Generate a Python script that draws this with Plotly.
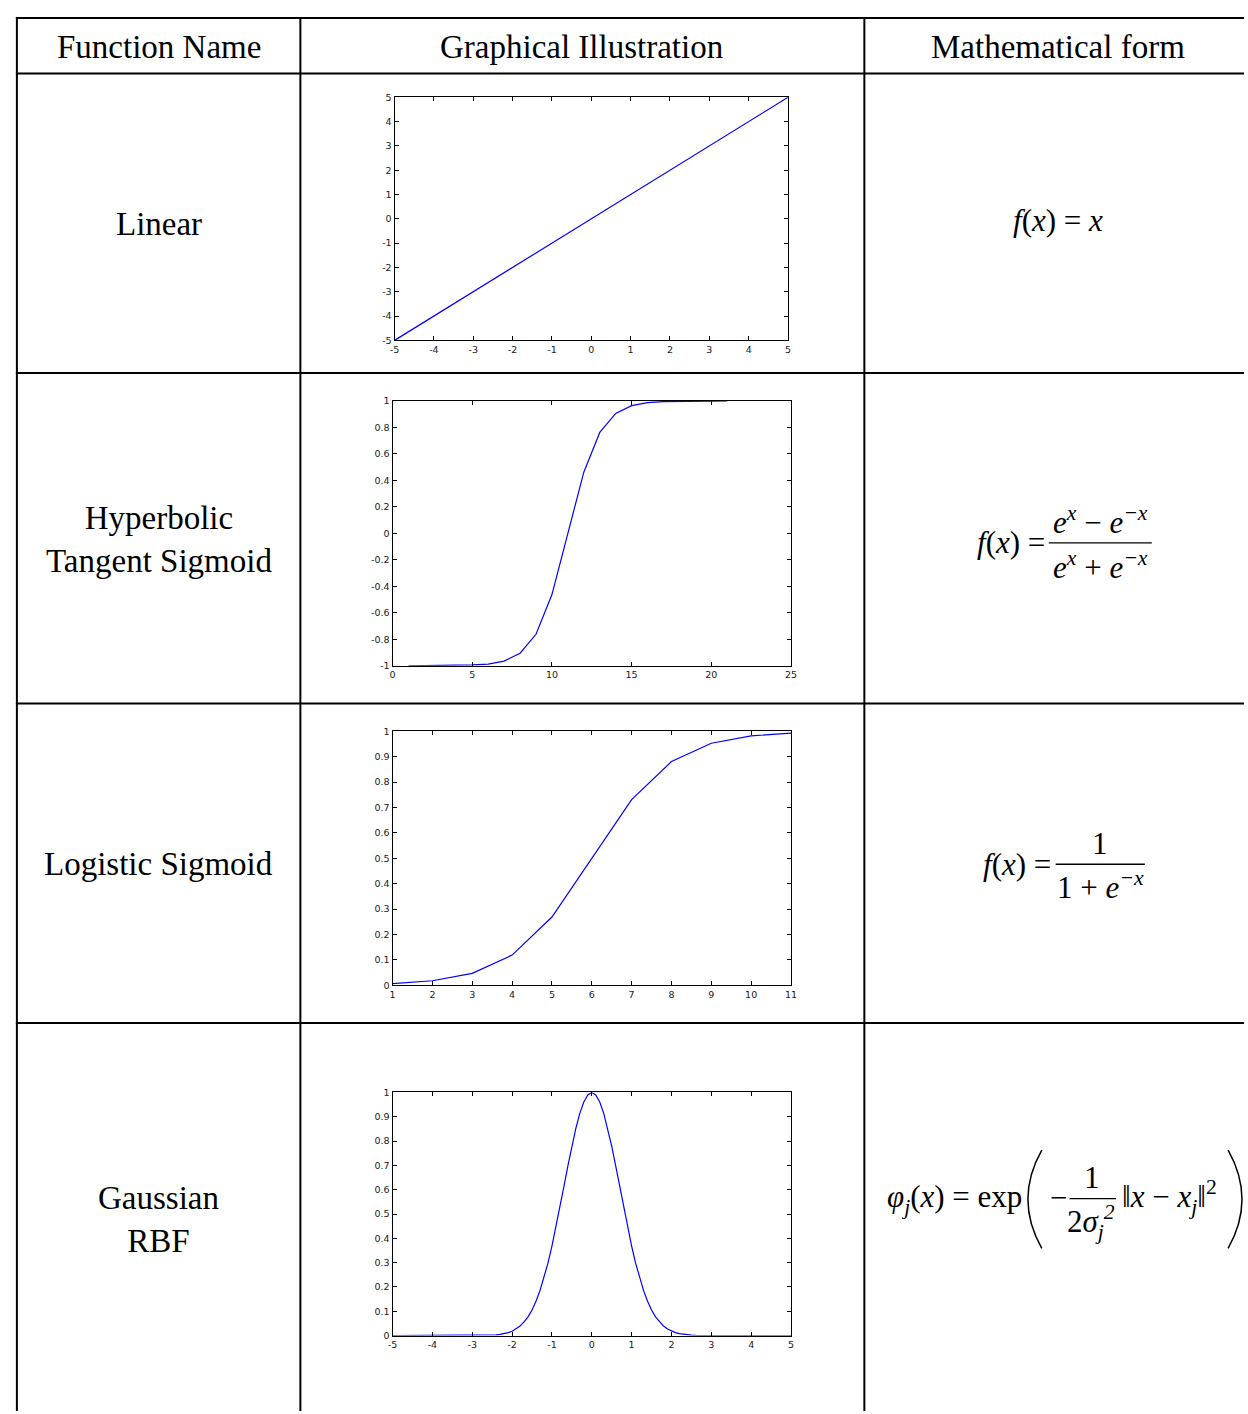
import plotly.graph_objects as go

W, H = 1248, 1414

# ---------------- data ----------------
lin_x = [-5, -4, -3, -2, -1, 0, 1, 2, 3, 4, 5]
lin_y = [-5, -4, -3, -2, -1, 0, 1, 2, 3, 4, 5]

tanh_x = list(range(1, 22))
tanh_y = [-1.0, -0.999, -0.999, -0.998, -0.993, -0.987, -0.964, -0.905, -0.762, -0.462, 0.0,
          0.462, 0.762, 0.905, 0.964, 0.987, 0.995, 0.998, 0.999, 0.999, 1.0]

logi_x = [1, 2, 3, 4, 5, 6, 7, 8, 9, 10, 11]
logi_y = [0.007, 0.018, 0.047, 0.119, 0.269, 0.5, 0.731, 0.881, 0.953, 0.982, 0.993]

gauss_x = [-5.0, -4.5, -4.0, -3.5, -3.0, -2.8, -2.7, -2.6, -2.5, -2.4, -2.3, -2.2, -2.1,
           -2.0, -1.9, -1.8, -1.7, -1.6, -1.5, -1.4, -1.3, -1.2, -1.1, -1.0, -0.9, -0.8, -0.7,
           -0.6, -0.5, -0.4, -0.3, -0.2, -0.1, 0.0, 0.1, 0.2, 0.3, 0.4, 0.5, 0.6, 0.7, 0.8, 0.9,
           1.0, 1.1, 1.2, 1.3, 1.4, 1.5, 1.6, 1.7, 1.8, 1.9, 2.0, 2.1, 2.2, 2.3, 2.4, 2.5, 2.6,
           2.7, 2.8, 3.0, 3.5, 4.0, 4.5, 5.0]
gauss_y = [0.0, 0.0, 0.0, 0.0, 0.0, 0.0, 0.001, 0.001, 0.002, 0.003, 0.005, 0.008, 0.012,
           0.018, 0.027, 0.039, 0.056, 0.077, 0.105, 0.141, 0.185, 0.237, 0.298, 0.368, 0.445,
           0.527, 0.613, 0.698, 0.779, 0.852, 0.914, 0.961, 0.990, 1.0, 0.990, 0.961, 0.914,
           0.852, 0.779, 0.698, 0.613, 0.527, 0.445, 0.368, 0.298, 0.237, 0.185, 0.141, 0.105,
           0.077, 0.056, 0.039, 0.027, 0.018, 0.012, 0.008, 0.005, 0.003, 0.002, 0.001, 0.001,
           0.0, 0.0, 0.0, 0.0, 0.0, 0.0]

header_labels = ["Function Name", "Graphical Illustration", "Mathematical form"]
row_names = ["Linear", "Hyperbolic<br>Tangent Sigmoid", "Logistic Sigmoid", "Gaussian<br>RBF"]

lin_ticks = [-5, -4, -3, -2, -1, 0, 1, 2, 3, 4, 5]
tanh_xticks = [0, 5, 10, 15, 20, 25]
tanh_yticks = [-1, -0.8, -0.6, -0.4, -0.2, 0, 0.2, 0.4, 0.6, 0.8, 1]
tanh_ylabels = ["-1", "-0.8", "-0.6", "-0.4", "-0.2", "0", "0.2", "0.4", "0.6", "0.8", "1"]
logi_xticks = [1, 2, 3, 4, 5, 6, 7, 8, 9, 10, 11]
unit_yticks = [0, 0.1, 0.2, 0.3, 0.4, 0.5, 0.6, 0.7, 0.8, 0.9, 1]
unit_ylabels = ["0", "0.1", "0.2", "0.3", "0.4", "0.5", "0.6", "0.7", "0.8", "0.9", "1"]

# ---------------- helpers ----------------
def px(x):
    return x / W


def py(y):
    return 1 - y / H


fig = go.Figure()

panels = [
    (lin_x, lin_y, (393, 790), (92, 337), [-5, 5], [-5, 5], lin_ticks, [str(t) for t in lin_ticks],
     lin_ticks, [str(t) for t in lin_ticks]),
    (tanh_x, tanh_y, (391, 793), (398, 665), [0, 25], [-1, 1], tanh_xticks, [str(t) for t in tanh_xticks],
     tanh_yticks, tanh_ylabels),
    (logi_x, logi_y, (391, 793), (731, 987), [1, 11], [0, 1], logi_xticks, [str(t) for t in logi_xticks],
     unit_yticks, unit_ylabels),
    (gauss_x, gauss_y, (391, 793), (1095, 1340), [-5, 5], [0, 1], lin_ticks, [str(t) for t in lin_ticks],
     unit_yticks, unit_ylabels),
]

tickfont = dict(family="DejaVu Sans, Liberation Sans, Arial", size=9.5, color="#1a1a1a")
layout_axes = {}
for i, (xs, ys, xd, yd, xr, yr, xt, xl, yt, yl) in enumerate(panels, start=1):
    sfx = "" if i == 1 else str(i)
    fig.add_trace(go.Scatter(x=xs, y=ys, mode="lines", line=dict(color="#0000ff", width=1.2),
                             xaxis="x" + sfx, yaxis="y" + sfx, showlegend=False, hoverinfo="skip"))
    common = dict(showgrid=False, zeroline=False, showline=True, linecolor="black", linewidth=1,
                  mirror="ticks", ticks="inside", ticklen=4, tickcolor="black", tickwidth=1,
                  tickfont=tickfont, fixedrange=True)
    layout_axes["xaxis" + sfx] = dict(domain=[px(xd[0]), px(xd[1])], range=xr, tickmode="array",
                                      tickvals=xt, ticktext=xl, anchor="y" + sfx, **common)
    layout_axes["yaxis" + sfx] = dict(domain=[py(yd[1]), py(yd[0])], range=yr, tickmode="array",
                                      tickvals=yt, ticktext=yl, anchor="x" + sfx, **common)

fig.update_layout(**layout_axes)

# ---------------- table lines ----------------
shapes = []
line_style = dict(color="black", width=2)
for yy in [12, 68, 370, 703, 1025]:
    shapes.append(dict(type="line", xref="paper", yref="paper", x0=px(11), x1=px(1250),
                       y0=py(yy), y1=py(yy), line=line_style))
for xx in [12, 298, 867]:
    shapes.append(dict(type="line", xref="paper", yref="paper", x0=px(xx), x1=px(xx),
                       y0=py(11), y1=py(1416), line=line_style))

# fraction bars
for (x0, x1, yy) in [(1053, 1157, 541), (1060, 1150, 865), (1074, 1121, 1202)]:
    shapes.append(dict(type="line", xref="paper", yref="paper", x0=px(x0), x1=px(x1),
                       y0=py(yy), y1=py(yy), line=dict(color="black", width=1.3)))


def paren(xe, xc, y0, y1):
    ym = (y0 + y1) / 2
    return dict(type="path", xref="paper", yref="paper",
                path=f"M {px(xe)},{py(y0)} Q {px(xc)},{py(ym)} {px(xe)},{py(y1)}",
                line=dict(color="black", width=1.5))


shapes.append(paren(1046, 1018, 1153, 1252))
shapes.append(paren(1234, 1262, 1153, 1252))

fig.update_layout(shapes=shapes)

# ---------------- text ----------------
serif = "Liberation Serif, Times New Roman, serif"
ann = []


def text(t, x, y, size=33, xanchor="center", yanchor="middle"):
    ann.append(dict(text=t, x=px(x), y=py(y), xref="paper", yref="paper", showarrow=False,
                    xanchor=xanchor, yanchor=yanchor,
                    font=dict(family=serif, size=size, color="black")))


for lab, cx in zip(header_labels, [155, 582, 1062]):
    text(lab, cx, 41)

for name, cy in zip(row_names, [220, 538, 865, 1223]):
    text(name, 155, cy)

fs = 31
# linear
text("<i>f</i>(<i>x</i>) = <i>x</i>", 1062, 216, fs)
# tanh
text("<i>f</i>(<i>x</i>) =", 1051, 541, fs, xanchor="right")
text("<i>e<sup>x</sup></i> − <i>e<sup>−x</sup></i>", 1105, 519, fs)
text("<i>e<sup>x</sup></i> + <i>e<sup>−x</sup></i>", 1105, 564, fs)
# logistic
text("<i>f</i>(<i>x</i>) =", 1057, 865, fs, xanchor="right")
text("1", 1105, 844, fs)
text("1 + <i>e<sup>−x</sup></i>", 1105, 886, fs)
# gaussian
text("<i>φ<sub>j</sub></i>(<i>x</i>) = exp", 1028, 1202, fs, xanchor="right")
text("−", 1063, 1201, fs)
text("1", 1097, 1181, fs)
text("2<i>σ<sub>j</sub><sup>2</sup></i>", 1096, 1226, fs)
text("‖<i>x</i> − <i>x<sub>j</sub></i>‖<sup>2</sup>", 1125, 1200, fs, xanchor="left")

fig.update_layout(annotations=ann, width=W, height=H, margin=dict(l=0, r=0, t=0, b=0),
                  paper_bgcolor="white", plot_bgcolor="white", showlegend=False)

fig.write_html("out.html", config={"displayModeBar": False},
               post_script="document.body.style.margin='0';document.body.style.padding='0';"
                           "document.documentElement.style.overflow='hidden';")
